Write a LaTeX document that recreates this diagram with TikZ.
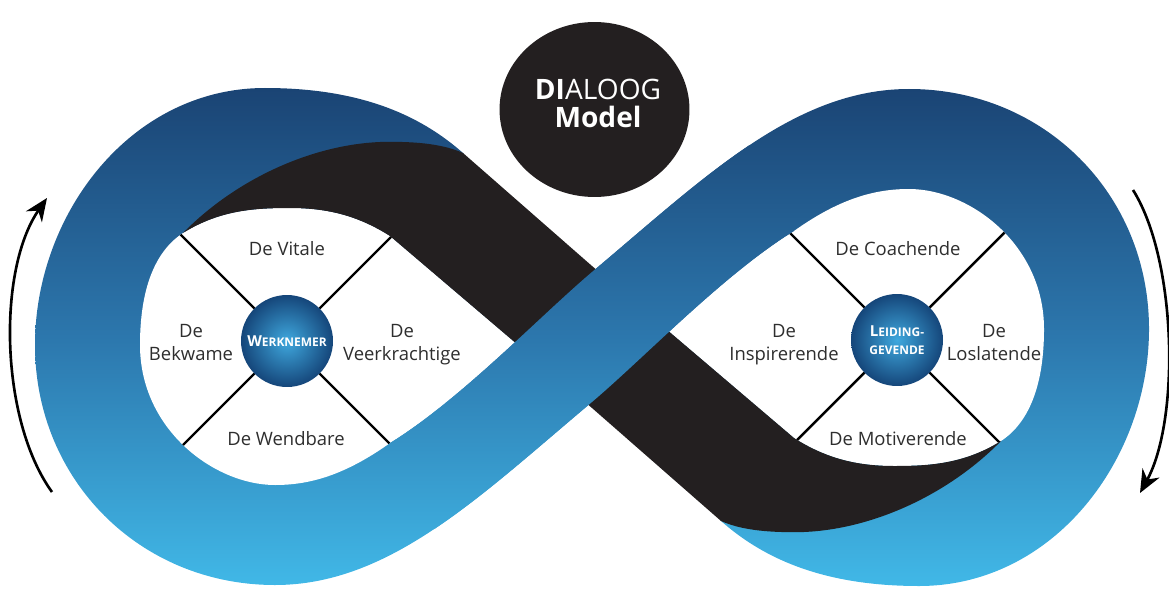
\documentclass[tikz,border=0pt]{standalone}
\usepackage{fontspec}
\setmainfont{Open Sans}
\usetikzlibrary{arrows.meta,shapes.geometric}

\definecolor{ribtop}{HTML}{1A4373}
\definecolor{ribmid}{HTML}{2C77AD}
\definecolor{ribbot}{HTML}{41B9E8}
\definecolor{bandblack}{HTML}{231F20}
\definecolor{labelgray}{HTML}{2E2E2E}
\definecolor{ballout}{HTML}{15467A}
\definecolor{ballin}{HTML}{3FA8DE}

% outer edge of the left loop, the right loop is the same path turned half round
\newcommand{\loopoutline}{(463,153) .. controls (420,115) and (360,88) .. (265,88) .. controls (130,88) and (35,215) .. (35,345) .. controls (35,480) and (140,585) .. (275,585) .. controls (390,585) and (480,496) .. (592,402) -- (575,290) -- (470,165) -- cycle}
% white eye inside the left loop
\newcommand{\eyeoutline}{(592,272) .. controls (540,316) and (460,400) .. (390,443) .. controls (345,475) and (310,485) .. (275,485) .. controls (215,485) and (140,430) .. (140,345) .. controls (140,280) and (160,248) .. (183,233) .. controls (220,210) and (255,208) .. (290,208) .. controls (330,208) and (360,217) .. (390,236) -- (592,408) -- cycle}
\newcommand{\ribbonfill}{\shade[ribbonshade] (-10,84) rectangle (1194,590);}
\newcommand{\hubinitial}[1]{{\fontsize{8.6}{10.2}\selectfont #1}}

\begin{document}
\begin{tikzpicture}[x=0.02cm, y=-0.02cm]
	\tikzset{ribbonshade/.style = {top color=ribtop, bottom color=ribbot, middle color=ribmid}}
	\tikzset{divider/.style = {line width=1.4pt, black}}
	\tikzset{facet/.style = {anchor=base, inner sep=0pt, text=labelgray, font=\fontsize{10.5}{12}\selectfont}}
	\tikzset{hub/.style = {circle, minimum size=1.84cm, inner sep=0pt, inner color=ballin, outer color=ballout, text=white, align=center, font=\bfseries\fontsize{6.8}{10.2}\selectfont}}
	\tikzset{flow/.style = {line width=1.5pt, -{Stealth[length=13pt, width=11pt]}}}
	
	\useasboundingbox (0,0) rectangle (1169,588);
	
	% the two loops
	\begin{scope}
		\clip \loopoutline;
		\ribbonfill
	\end{scope}
	\begin{scope}
		\clip[rotate around={180:(592,337)}] \loopoutline;
		\ribbonfill
	\end{scope}
	
	% eyes and their quarters
	\coordinate (wnc) at (287,341);
	\coordinate (lgc) at (897,340);
	\fill[white] \eyeoutline;
	\fill[white, rotate around={180:(592,337)}] \eyeoutline;
	\begin{scope}
		\clip \eyeoutline;
		\draw[divider] (wnc) +(-160,-160) -- +(160,160);
		\draw[divider] (wnc) +(-160,160) -- +(160,-160);
	\end{scope}
	\begin{scope}
		\clip[rotate around={180:(592,337)}] \eyeoutline;
		\draw[divider] (lgc) +(-160,-160) -- +(160,160);
		\draw[divider] (lgc) +(-160,160) -- +(160,-160);
	\end{scope}
	
	% back side of the band, running under the crossing
	\fill[bandblack] (183,233) .. controls (235,180) and (310,145) .. (380,142) .. controls (420,141) and (445,145) .. (463,153)
		-- (592,266) -- (794,438) .. controls (824,457) and (854,466) .. (894,466) .. controls (929,466) and (964,464) .. (1001,441)
		.. controls (949,494) and (874,529) .. (804,532) .. controls (764,533) and (739,529) .. (721,521)
		-- (592,408) -- (390,236) .. controls (360,217) and (330,208) .. (290,208) .. controls (255,208) and (220,210) .. (183,233) -- cycle;
	
	% front of the band over the crossing
	\begin{scope}
		\clip (434.6,528.8) .. controls (485.5,494.8) and (536,449) .. (592,402) .. controls (644,358) and (724,274) .. (794,231)
			-- (749.4,145.2) .. controls (698.5,179.2) and (648,225) .. (592,272) .. controls (540,316) and (460,400) .. (390,443) -- cycle;
		\ribbonfill
	\end{scope}
	
	\node[hub] (wn) at (wnc) {\hubinitial{W}ERKNEMER};
	\node[hub] (lg) at (lgc) {\hubinitial{L}EIDING-\\GEVENDE};
	
	\node[facet] (vitale)          at (287,255) {De Vitale};
	\node[facet] (bekwamede)       at (191,337) {De};
	\node[facet] (bekwame)         at (191,360) {Bekwame};
	\node[facet] (veerkrachtigede) at (402,337) {De};
	\node[facet] (veerkrachtige)   at (402,360) {Veerkrachtige};
	\node[facet] (wendbare)        at (286,445) {De Wendbare};
	
	\node[facet] (coachende)       at (898,255) {De Coachende};
	\node[facet] (inspirerendede)  at (784,337) {De};
	\node[facet] (inspirerende)    at (784,360) {Inspirerende};
	\node[facet] (loslatendede)    at (994,337) {De};
	\node[facet] (loslatende)      at (994,360) {Loslatende};
	\node[facet] (motiverende)     at (898,445) {De Motiverende};
	
	% title disc
	\node[ellipse, fill=bandblack, minimum width=3.8cm, minimum height=3.5cm, inner sep=0pt] (titledisc) at (594.5,109.5) {};
	\node[anchor=base, inner sep=0pt, text=white, font=\fontsize{16}{18}\selectfont] (titletop) at (598,100) {\textbf{DI}ALOOG};
	\node[anchor=base, inner sep=0pt, text=white, font=\bfseries\fontsize{16}{18}\selectfont] (titlebot) at (598,128) {Model};
	
	% direction of travel
	\coordinate (lefttail) at (52,492);
	\coordinate (lefthead) at (47,198);
	\coordinate (righttail) at (1133,190);
	\coordinate (righthead) at (1140,493);
	\draw[flow] (lefttail) .. controls (0,420) and (-3,270) .. (lefthead);
	\draw[flow] (righttail) .. controls (1177,260) and (1180,420) .. (righthead);
\end{tikzpicture}
\end{document}
